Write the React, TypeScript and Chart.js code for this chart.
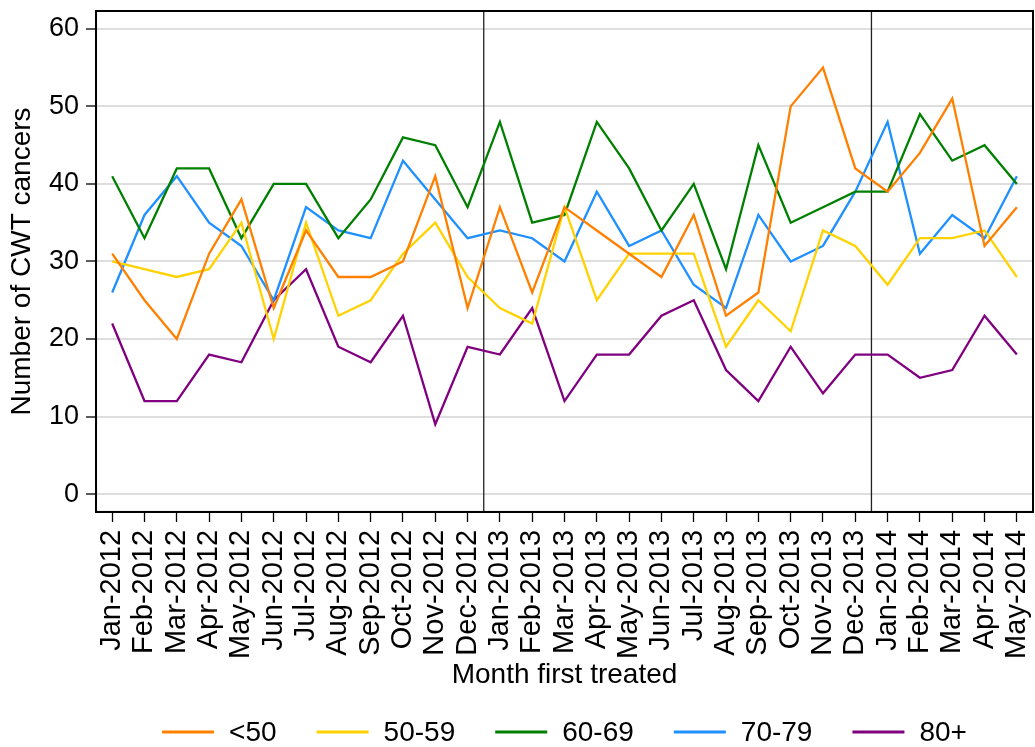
import React, { useEffect, useRef } from 'react';
import { Chart, registerables } from 'chart.js';

Chart.register(...registerables);

const months = [
  'Jan-2012', 'Feb-2012', 'Mar-2012', 'Apr-2012', 'May-2012', 'Jun-2012',
  'Jul-2012', 'Aug-2012', 'Sep-2012', 'Oct-2012', 'Nov-2012', 'Dec-2012',
  'Jan-2013', 'Feb-2013', 'Mar-2013', 'Apr-2013', 'May-2013', 'Jun-2013',
  'Jul-2013', 'Aug-2013', 'Sep-2013', 'Oct-2013', 'Nov-2013', 'Dec-2013',
  'Jan-2014', 'Feb-2014', 'Mar-2014', 'Apr-2014', 'May-2014',
];

const seriesLabels = ['<50', '50-59', '60-69', '70-79', '80+'];
const seriesColors = ['#ff8000', '#ffd200', '#008000', '#1e90ff', '#800080'];

const under50 = [31, 25, 20, 31, 38, 24, 34, 28, 28, 30, 41, 24, 37, 26, 37, 34, 31, 28, 36, 23, 26, 50, 55, 42, 39, 44, 51, 32, 37];
const age50to59 = [30, 29, 28, 29, 35, 20, 35, 23, 25, 31, 35, 28, 24, 22, 37, 25, 31, 31, 31, 19, 25, 21, 34, 32, 27, 33, 33, 34, 28];
const age60to69 = [41, 33, 42, 42, 33, 40, 40, 33, 38, 46, 45, 37, 48, 35, 36, 48, 42, 34, 40, 29, 45, 35, 37, 39, 39, 49, 43, 45, 40];
const age70to79 = [26, 36, 41, 35, 32, 25, 37, 34, 33, 43, 38, 33, 34, 33, 30, 39, 32, 34, 27, 24, 36, 30, 32, 39, 48, 31, 36, 33, 41];
const age80plus = [22, 12, 12, 18, 17, 25, 29, 19, 17, 23, 9, 19, 18, 24, 12, 18, 18, 23, 25, 16, 12, 19, 13, 18, 18, 15, 16, 23, 18];

const yTicks = [0, 10, 20, 30, 40, 50, 60];
const yearStarts = ['Jan-2013', 'Jan-2014'];

const FONT = "'Liberation Sans', Arial, Helvetica, sans-serif";

const framePlugin = {
  id: 'frameAndBreaks',
  beforeDatasetsDraw(chart: any) {
    const { ctx, chartArea } = chart;
    const xs = chart.scales.x;
    ctx.save();
    ctx.strokeStyle = '#222';
    ctx.lineWidth = 1.3;
    yearStarts.forEach((m) => {
      const idx = months.indexOf(m);
      if (idx <= 0) return;
      const px = (xs.getPixelForValue(idx - 1) + xs.getPixelForValue(idx)) / 2;
      ctx.beginPath();
      ctx.moveTo(px, chartArea.top);
      ctx.lineTo(px, chartArea.bottom);
      ctx.stroke();
    });
    ctx.restore();
  },
  afterDraw(chart: any) {
    const { ctx, chartArea } = chart;
    ctx.save();
    ctx.strokeStyle = '#000';
    ctx.lineWidth = 2;
    ctx.strokeRect(chartArea.left, chartArea.top, chartArea.right - chartArea.left, chartArea.bottom - chartArea.top);
    ctx.restore();
  },
};

const legendPlugin = {
  id: 'lineLegend',
  afterDraw(chart: any) {
    const { ctx, chartArea } = chart;
    ctx.save();
    ctx.font = `28px ${FONT}`;
    ctx.textBaseline = 'middle';
    ctx.textAlign = 'left';
    const lineLen = 52;
    const gapText = 15;
    const gapItem = 40;
    const items = chart.data.datasets.map((ds: any) => ({
      text: ds.label,
      color: ds.borderColor,
      w: ctx.measureText(ds.label).width,
    }));
    const total = items.reduce((s: number, it: any) => s + lineLen + gapText + it.w, 0) + gapItem * (items.length - 1);
    let x = (chartArea.left + chartArea.right) / 2 - total / 2;
    const yText = 733;
    const yLine = 732;
    items.forEach((it: any) => {
      ctx.strokeStyle = it.color;
      ctx.lineWidth = 3;
      ctx.beginPath();
      ctx.moveTo(x, yLine);
      ctx.lineTo(x + lineLen, yLine);
      ctx.stroke();
      ctx.fillStyle = '#000';
      ctx.fillText(it.text, x + lineLen + gapText, yText);
      x += lineLen + gapText + it.w + gapItem;
    });
    ctx.restore();
  },
};

export default function App() {
  const canvasRef = useRef<HTMLCanvasElement | null>(null);

  useEffect(() => {
    if (!canvasRef.current) return;
    const seriesValues = [under50, age50to59, age60to69, age70to79, age80plus];
    const chart = new Chart(canvasRef.current, {
      type: 'line',
      data: {
        labels: months,
        datasets: seriesValues.map((vals, i) => ({
          label: seriesLabels[i],
          data: vals,
          borderColor: seriesColors[i],
          backgroundColor: seriesColors[i],
          borderWidth: 2.3,
          pointRadius: 0,
          tension: 0,
          fill: false,
        })),
      },
      options: {
        animation: false,
        responsive: false,
        layout: { padding: { left: 5, top: 11, right: 2, bottom: 55 }, autoPadding: false },
        plugins: {
          legend: { display: false },
          tooltip: { enabled: false },
        },
        scales: {
          x: {
            type: 'category',
            offset: true,
            grid: { drawOnChartArea: false, drawTicks: true, tickLength: 10, tickColor: '#000', tickWidth: 1.3 },
            border: { color: '#000', width: 2 },
            ticks: {
              autoSkip: false,
              minRotation: 90,
              maxRotation: 90,
              padding: 8,
              color: '#000',
              font: { family: FONT, size: 29, lineHeight: 0.25 },
            },
            title: {
              display: true,
              text: 'Month first treated',
              color: '#000',
              font: { family: FONT, size: 28 },
              padding: { top: -8.5, bottom: 0 },
            },
          },
          y: {
            min: -2.3,
            max: 62.3,
            afterBuildTicks: (scale: any) => {
              scale.ticks = yTicks.map((v) => ({ value: v }));
            },
            grid: { color: '#dedede', lineWidth: 2, tickLength: 10, tickColor: '#000', tickWidth: 1.3 },
            border: { color: '#000', width: 2 },
            ticks: {
              padding: 7,
              color: '#000',
              font: { family: FONT, size: 27, lineHeight: 0.25 },
            },
            title: {
              display: true,
              text: 'Number of CWT cancers',
              color: '#000',
              font: { family: FONT, size: 28 },
              padding: { top: 0, bottom: 3.4 },
            },
          },
        },
      },
      plugins: [framePlugin, legendPlugin],
    } as any);
    return () => chart.destroy();
  }, []);

  return (
    <div style={{ position: 'fixed', left: 0, top: 0, width: 1035, height: 747, background: '#fff' }}>
      <canvas ref={canvasRef} width={1035} height={747} style={{ display: 'block' }} />
    </div>
  );
}
